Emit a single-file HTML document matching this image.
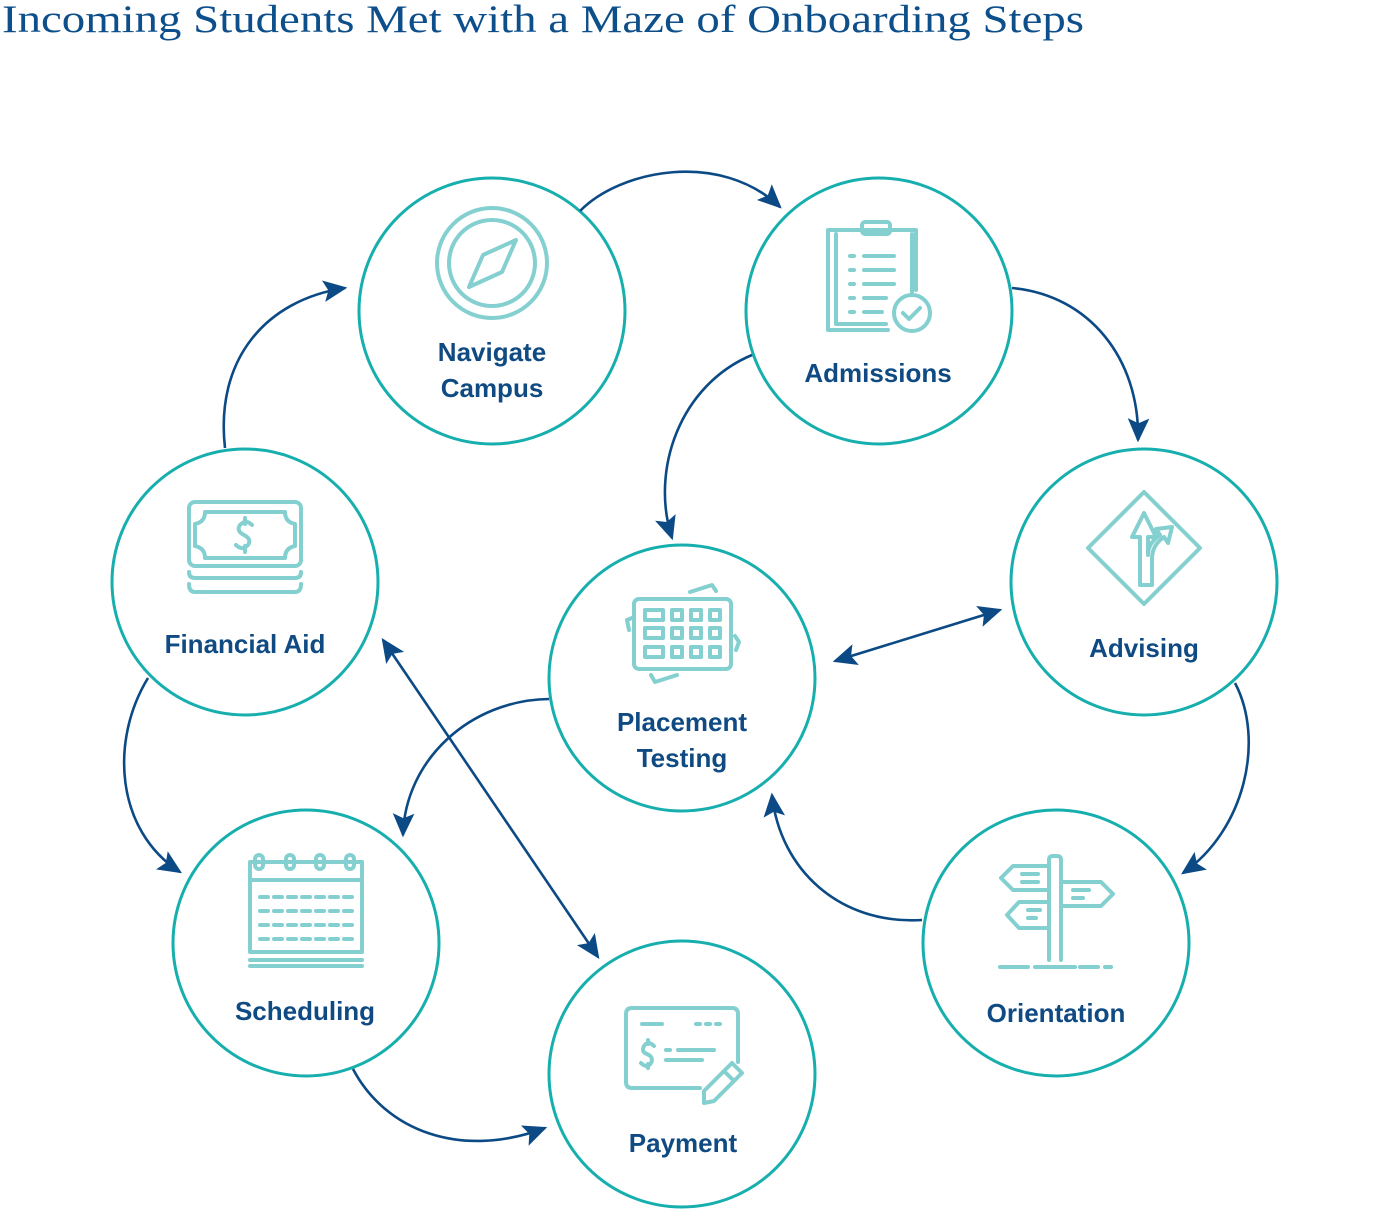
<!DOCTYPE html>
<html><head><meta charset="utf-8"><style>
html,body{margin:0;padding:0;background:#fff;width:1400px;height:1212px;overflow:hidden}
svg{display:block}
.lbl{font-family:"Liberation Sans",sans-serif;font-weight:bold;font-size:26px;fill:#0f4a82;text-anchor:middle}
.ic{fill:none;stroke:#84cfcf;stroke-width:4;stroke-linecap:round;stroke-linejoin:round}
.ar{fill:none;stroke:#0b4a85;stroke-width:2.6}
</style></head><body>
<svg width="1400" height="1212" viewBox="0 0 1400 1212">
<defs>
<marker id="a" viewBox="0 0 20 20" refX="18" refY="10" markerWidth="24" markerHeight="24" markerUnits="userSpaceOnUse" orient="auto-start-reverse"><path d="M0,1 L20,10 L0,19 L4,10 Z" fill="#0b4a85"/></marker>
</defs>
<text x="2" y="32" font-family="Liberation Serif,serif" font-size="39" fill="#0d4f8a" textLength="1082" lengthAdjust="spacingAndGlyphs">Incoming Students Met with a Maze of Onboarding Steps</text>

<g fill="#fff" stroke="#17aeae" stroke-width="3">
<circle cx="492" cy="311" r="133"/>
<circle cx="879" cy="311" r="133"/>
<circle cx="245" cy="582" r="133"/>
<circle cx="1144" cy="582" r="133"/>
<circle cx="682" cy="678" r="133"/>
<circle cx="306" cy="943" r="133"/>
<circle cx="1056" cy="943" r="133"/>
<circle cx="682" cy="1074" r="133"/>
</g>

<path class="ar" marker-end="url(#a)" d="M580,211 C620,170 720,150 780,207"/>
<path class="ar" marker-end="url(#a)" d="M1012,288 C1090,295 1140,360 1138,440"/>
<path class="ar" marker-end="url(#a)" d="M752,355 C680,385 650,470 672,538"/>
<path class="ar" marker-start="url(#a)" marker-end="url(#a)" d="M835,661 L1000,610"/>
<path class="ar" marker-end="url(#a)" d="M1235,683 C1265,740 1245,830 1183,873"/>
<path class="ar" marker-end="url(#a)" d="M922,920 C840,925 780,870 772,795"/>
<path class="ar" marker-end="url(#a)" d="M549,699 C470,700 405,760 403,835"/>
<path class="ar" marker-start="url(#a)" marker-end="url(#a)" d="M383,640 L598,957"/>
<path class="ar" marker-end="url(#a)" d="M225,448 C215,360 265,300 345,288"/>
<path class="ar" marker-end="url(#a)" d="M148,678 C110,740 115,830 180,872"/>
<path class="ar" marker-end="url(#a)" d="M353,1069 C385,1130 460,1160 545,1128"/>

<text class="lbl" x="492" y="361">Navigate</text>
<text class="lbl" x="492" y="397">Campus</text>
<text class="lbl" x="878" y="382">Admissions</text>
<text class="lbl" x="245" y="653">Financial Aid</text>
<text class="lbl" x="1144" y="657">Advising</text>
<text class="lbl" x="682" y="731">Placement</text>
<text class="lbl" x="682" y="767">Testing</text>
<text class="lbl" x="305" y="1020">Scheduling</text>
<text class="lbl" x="1056" y="1022">Orientation</text>
<text class="lbl" x="683" y="1152">Payment</text>

<g class="ic">
<circle cx="492" cy="263" r="55"/>
<circle cx="492" cy="263" r="43"/>
<path d="M516,240 L502,272 L469,287 L483,255 Z"/>
<path d="M836,230 h-8 v100 h60"/><path d="M836,230 h80 v60"/>
<path d="M836,234 v90 h50"/><path d="M912,234 v58"/>
<rect x="862" y="222" width="28" height="12" rx="3"/>
<path d="M850,256 h4 M864,256 h30 M850,270 h4 M864,270 h30 M850,284 h4 M864,284 h30 M850,298 h4 M864,298 h22 M850,312 h4 M864,312 h18"/>
<circle cx="912" cy="313" r="18"/><path d="M903,313 l6,6 l11,-11"/>
<rect x="189" y="502" width="112" height="64" rx="6"/>
<path d="M205,512 h80 q0,10 10,12 v22 q-10,2 -10,12 h-80 q0,-10 -10,-12 v-22 q10,-2 10,-12 Z"/>
<path d="M252,525 q-6,-6 -12,0 q-4,6 4,10 q8,4 4,10 q-6,6 -12,0 M245,518 v6 M245,546 v6"/>
<path d="M189,572 q0,6 6,6 h100 q6,0 6,-6 M189,584 q0,8 6,8 h100 q6,0 6,-8"/>
<path d="M1144,492 L1200,548 L1144,604 L1088,548 Z"/>
<path d="M1140,585 v-48 h-8 l12,-24 l12,24 h-8 v18 q0,-12 12,-20 l-4,-6 l16,-2 l-4,16 l-4,-6 q-12,8 -12,22 v26 Z"/>
<rect x="634" y="599" width="97" height="70" rx="5"/>
<path d="M690,592 l22,-7 l4,6 M651,675 l4,7 l22,-7 M632,618 l-5,2 l2,10 M735,636 l4,6 l-3,8"/>
<rect x="645" y="610" width="18" height="10"/><rect x="672" y="610" width="10" height="10"/><rect x="691" y="610" width="10" height="10"/><rect x="710" y="610" width="10" height="10"/>
<rect x="645" y="628" width="18" height="10"/><rect x="672" y="628" width="10" height="10"/><rect x="691" y="628" width="10" height="10"/><rect x="710" y="628" width="10" height="10"/>
<rect x="645" y="647" width="18" height="10"/><rect x="672" y="647" width="10" height="10"/><rect x="691" y="647" width="10" height="10"/><rect x="710" y="647" width="10" height="10"/>
<path d="M250,862 v90 h112 v-90 Z"/>
<path d="M250,880 h112"/>
<rect x="255" y="855" width="8" height="14" rx="4"/><rect x="286" y="855" width="8" height="14" rx="4"/><rect x="316" y="855" width="8" height="14" rx="4"/><rect x="346" y="855" width="8" height="14" rx="4"/>
<path d="M260,897 h92 M260,911 h92 M260,925 h92 M260,939 h92" stroke-dasharray="8 6"/>
<path d="M250,960 h112 M250,966 h112"/>
<path d="M1049,960 v-100 q0,-4 4,-4 h4 q4,0 4,4 v100"/>
<path d="M1049,866 h-36 l-12,12 l12,12 h36"/>
<path d="M1061,882 h40 l12,12 l-12,12 h-40"/>
<path d="M1049,902 h-30 l-12,13 l12,13 h30"/>
<path d="M1022,874 h16 M1022,882 h16 M1073,890 h16 M1073,898 h10 M1028,910 h12 M1028,918 h8"/>
<path d="M1000,967 h28 M1035,967 h40 M1080,967 h18 M1105,967 h6"/>
<path d="M700,1088 h-68 q-6,0 -6,-6 v-68 q0,-6 6,-6 h100 q6,0 6,6 v48"/>
<path d="M642,1024 h20 M696,1024 h4 M706,1024 h4 M716,1024 h4"/>
<path d="M654,1046 q-6,-6 -10,0 q-3,6 3,8 q7,3 4,9 q-4,6 -10,0 M648,1040 v4 M648,1064 v4"/>
<path d="M666,1050 h4 M678,1050 h36 M666,1060 h36"/>
<path d="M704,1103 l0,-12 l28,-28 l10,10 l-28,28 Z M724,1071 l10,10"/>
</g>
</svg>
</body></html>
